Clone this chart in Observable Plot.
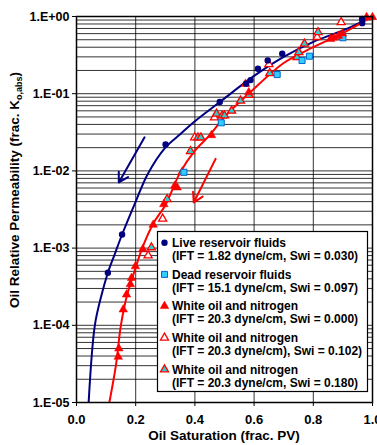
<!DOCTYPE html>
<html><head><meta charset="utf-8">
<script src="https://cdn.jsdelivr.net/npm/d3@7"></script>
<script src="https://cdn.jsdelivr.net/npm/@observablehq/plot@0.6"></script>
<style>
body{margin:0;background:#fff;}
#chart{position:relative;width:377px;height:445px;}
</style>
</head><body><div id="chart"></div>
<script>
// ---- data ----
const liveX = [0.106, 0.154, 0.301, 0.484, 0.573, 0.588, 0.613, 0.646, 0.695, 0.965, 0.965];
const liveY = [4.8e-4, 1.5e-3, 0.022, 0.078, 0.135, 0.15, 0.21, 0.27, 0.33, 0.82, 0.93];

const deadX = [0.363, 0.489, 0.678, 0.762, 0.787, 0.897, 0.9];
const deadY = [0.0096, 0.042, 0.177, 0.269, 0.306, 0.57, 0.53];

const white000X = [0.141, 0.143, 0.158, 0.169, 0.182, 0.186, 0.199, 0.224, 0.259, 0.295, 0.332, 0.340, 0.456, 0.571, 0.582, 0.858, 0.87, 0.885, 0.898, 0.98, 1.0];
const white000Y = [3.9e-5, 5.0e-5, 1.6e-4, 2.5e-4, 3.4e-4, 4.1e-4, 5.8e-4, 9.7e-4, 2.0e-3, 3.7e-3, 6.4e-3, 6.1e-3, 0.029, 0.134, 0.104, 0.51, 0.53, 0.56, 0.60, 0.98, 0.98];

const white102X = [0.242, 0.291, 0.399, 0.466, 0.65, 0.813, 0.894];
const white102Y = [8.0e-4, 2.4e-3, 0.027, 0.049, 0.24, 0.54, 0.84];

const white180X = [0.253, 0.306, 0.357, 0.385, 0.41, 0.42, 0.473, 0.492, 0.5, 0.524, 0.554, 0.583, 0.653, 0.745, 0.751, 0.77, 0.816];
const white180Y = [1.02e-3, 4.3e-3, 9.6e-3, 0.018, 0.027, 0.027, 0.055, 0.052, 0.052, 0.060, 0.081, 0.096, 0.184, 0.296, 0.344, 0.443, 0.626];

// fitted curves
const liveCurveX = [0.041, 0.062, 0.085, 0.106, 0.13, 0.154, 0.2, 0.24, 0.3, 0.351, 0.4, 0.484, 0.6, 0.7, 0.8, 0.9, 0.97];
const liveCurveY = [1e-5, 1e-4, 2.5e-4, 4.8e-4, 8.5e-4, 1.5e-3, 4.0e-3, 9.0e-3, 0.02, 0.03, 0.044, 0.078, 0.17, 0.30, 0.47, 0.66, 0.88];

const whiteCurveX = [0.111, 0.133, 0.15, 0.17, 0.2, 0.222, 0.26, 0.3, 0.35, 0.4, 0.45, 0.5, 0.582, 0.7, 0.8, 0.9, 1.0];
const whiteCurveY = [1e-5, 3e-5, 1e-4, 2.4e-4, 5.6e-4, 1e-3, 2.1e-3, 3.6e-3, 9.5e-3, 0.0183, 0.029, 0.05, 0.1, 0.25, 0.4, 0.61, 1.0];

// annotation arrows [x1, y1, x2, y2]
const arrowLive = [0.23, 0.0272, 0.143, 0.0071];
const arrowWhite = [0.47, 0.0143, 0.396, 0.0039];

// axes
const xTicks = [0, 0.2, 0.4, 0.6, 0.8, 1.0];
const xTickLabels = ["0.0", "0.2", "0.4", "0.6", "0.8", "1.0"];
const yTicks = [1e-5, 1e-4, 1e-3, 1e-2, 1e-1, 1];
const yTickLabels = ["1.E-05", "1.E-04", "1.E-03", "1.E-02", "1.E-01", "1.E+00"];
const minorMult = [2, 3, 4, 5, 6, 7, 8, 9];

const legendLabels = [
  ["Live reservoir fluids", "(IFT = 1.82 dyne/cm, Swi = 0.030)"],
  ["Dead reservoir fluids", "(IFT = 15.1 dyne/cm, Swi = 0.097)"],
  ["White oil and nitrogen", "(IFT = 20.3 dyne/cm, Swi = 0.000)"],
  ["White oil and nitrogen", "(IFT = 20.3 dyne/cm), Swi = 0.102)"],
  ["White oil and nitrogen", "(IFT = 20.3 dyne/cm, Swi = 0.180)"]
];

// ---- build ----
const rows = (xs, ys) => xs.map((x, i) => ({x, y: ys[i]}));
const yGrid = yTicks.slice(0, -1).flatMap(d => minorMult.map(m => d * m)).concat(yTicks);
const NAVY = "#000080", RED = "#ff0000", CYAN_SQ = "#33ccff", CYAN_TRI = "#33cccc", SQ_EDGE = "#0066cc";
const FONT = "'Liberation Sans', Arial, Helvetica, sans-serif";
const R_CIRC = 3.2, R_SQ = 3.4, R_TRI_F = 3.2, R_TRI_O = 3.0;

const plot = Plot.plot({
  width: 377, height: 445,
  marginTop: 16, marginRight: 5, marginBottom: 43, marginLeft: 76,
  style: {fontFamily: FONT, fontSize: "12.5px", fontWeight: "bold", color: "#000", background: "#fff"},
  x: {domain: [0, 1]},
  y: {type: "log", domain: [1e-5, 1]},
  marks: [
    Plot.ruleY(yGrid, {stroke: "#000", strokeWidth: 1, strokeOpacity: 0.8}),
    Plot.ruleX(xTicks, {stroke: "#000", strokeWidth: 1, strokeOpacity: 0.8}),
    Plot.line(rows(liveCurveX, liveCurveY), {x: "x", y: "y", stroke: NAVY, strokeWidth: 2, curve: "catmull-rom", clip: true}),
    Plot.line(rows(whiteCurveX, whiteCurveY), {x: "x", y: "y", stroke: RED, strokeWidth: 2, curve: "catmull-rom", clip: true}),
    Plot.arrow([arrowLive], {x1: d => d[0], y1: d => d[1], x2: d => d[2], y2: d => d[3], stroke: NAVY, strokeWidth: 2, headLength: 8}),
    Plot.arrow([arrowWhite], {x1: d => d[0], y1: d => d[1], x2: d => d[2], y2: d => d[3], stroke: RED, strokeWidth: 2, headLength: 8}),
    Plot.dot(rows(white102X, white102Y), {x: "x", y: "y", symbol: "triangle", r: R_TRI_O, fill: "#fff", stroke: RED, strokeWidth: 1.3}),
    Plot.dot(rows(white180X, white180Y), {x: "x", y: "y", symbol: "triangle", r: R_TRI_O, fill: CYAN_TRI, stroke: RED, strokeWidth: 1.3}),
    Plot.dot(rows(deadX, deadY), {x: "x", y: "y", symbol: "square", r: R_SQ, fill: CYAN_SQ, stroke: SQ_EDGE, strokeWidth: 1}),
    Plot.dot(rows(white000X, white000Y), {x: "x", y: "y", symbol: "triangle", r: R_TRI_F, fill: RED, stroke: RED, strokeWidth: 0.5}),
    Plot.dot(rows(liveX, liveY), {x: "x", y: "y", symbol: "circle", r: R_CIRC, fill: NAVY}),
    Plot.axisX({ticks: xTicks, tickFormat: d => xTickLabels[xTicks.indexOf(d)], tickSize: 4, tickPadding: 8, fontSize: 13, label: null}),
    Plot.axisY({ticks: yTicks, tickFormat: d => yTickLabels[yTicks.indexOf(d)], tickSize: 4, tickPadding: 3, fontSize: 12.5, label: null}),
    Plot.frame({stroke: "#000", strokeWidth: 1.5})
  ]
});

document.getElementById("chart").appendChild(plot);

// titles and legend
const svg = d3.select(plot);
svg.append("text")
  .attr("x", 224).attr("y", 440).attr("text-anchor", "middle")
  .attr("font-family", FONT).attr("font-weight", "bold").attr("font-size", 13.5)
  .attr("fill", "#000")
  .text("Oil Saturation (frac. PV)");

const yt = svg.append("text")
  .attr("transform", "translate(19,190) rotate(-90)").attr("text-anchor", "middle")
  .attr("font-family", FONT).attr("font-weight", "bold").attr("font-size", 13.5)
  .attr("fill", "#000");
yt.append("tspan").text("Oil Relative Permeability (frac. K");
yt.append("tspan").attr("font-size", 9).attr("dy", 3).text("o,abs");
yt.append("tspan").attr("dy", -3).text(")");

const lg = svg.append("g");
lg.append("rect").attr("x", 157.5).attr("y", 231.5).attr("width", 210).attr("height", 160)
  .attr("fill", "#fff").attr("stroke", "#000").attr("stroke-width", 1.2);
const sym = (type, r) => d3.symbol(type, Math.PI * r * r)();
const legendSymbols = [
  {path: sym(d3.symbolCircle, R_CIRC), fill: NAVY, stroke: "none", sw: 0},
  {path: sym(d3.symbolSquare, R_SQ), fill: CYAN_SQ, stroke: SQ_EDGE, sw: 1},
  {path: sym(d3.symbolTriangle, R_TRI_F), fill: RED, stroke: RED, sw: 0.5},
  {path: sym(d3.symbolTriangle, R_TRI_O), fill: "#fff", stroke: RED, sw: 1.3},
  {path: sym(d3.symbolTriangle, R_TRI_O), fill: CYAN_TRI, stroke: RED, sw: 1.3}
];
legendLabels.forEach((lab, i) => {
  const cy = 242.7 + i * 31.7;
  const s = legendSymbols[i];
  lg.append("path").attr("d", s.path).attr("transform", `translate(164.5,${cy})`)
    .attr("fill", s.fill).attr("stroke", s.stroke).attr("stroke-width", s.sw);
  const t = lg.append("text").attr("font-family", FONT).attr("font-weight", "bold")
    .attr("font-size", 12).attr("fill", "#000").attr("text-anchor", "start");
  t.append("tspan").attr("x", 172).attr("y", cy + 4.3).text(lab[0]);
  t.append("tspan").attr("x", 172).attr("y", cy + 4.3 + 13).text(lab[1]);
});
</script>
</body></html>
